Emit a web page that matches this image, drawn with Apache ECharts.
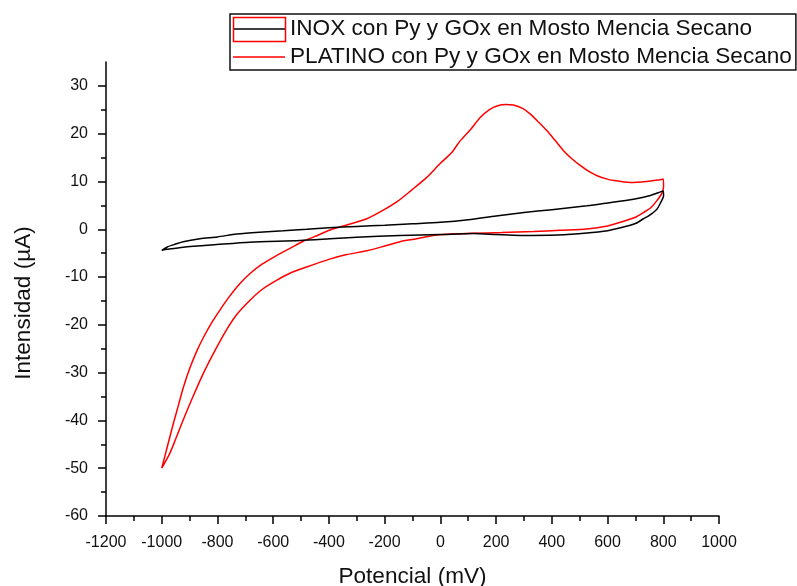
<!DOCTYPE html>
<html>
<head>
<meta charset="utf-8">
<script src="https://cdn.jsdelivr.net/npm/echarts@6/dist/echarts.min.js"></script>
<style>
  html, body { margin: 0; padding: 0; background: #fff; }
  #chart { width: 797px; height: 586px; }
</style>
</head>
<body>
<div id="chart"></div>
<script>
// Cyclic voltammograms: potential (mV) vs current (µA)
const seriesNames = [
  'INOX con Py y GOx en Mosto Mencia Secano',
  'PLATINO con Py y GOx en Mosto Mencia Secano'
];

// INOX electrode: forward sweep then return sweep
const inoxPotential = [
  -1000, -980, -950, -923, -863, -800, -731, -650, -564, -480, -400, -300, -200, -100,
  0, 100, 200, 300, 400, 526, 600, 693, 750, 800,
  801, 790, 777, 750, 729, 700, 646, 600, 526, 420, 286, 200, 119, 0,
  -145, -300, -396, -504, -684, -803, -923, -980, -1000
];
const inoxCurrent = [
  -4.4, -3.7, -3.1, -2.6, -2.0, -1.6, -1.0, -0.6, -0.3, 0.0, 0.3, 0.6, 0.85, 1.15,
  1.46, 2.0, 2.8, 3.5, 4.1, 4.9, 5.5, 6.3, 7.0, 8.0,
  7.0, 5.5, 4.2, 2.9, 2.2, 1.2, 0.3, -0.3, -0.8, -1.2, -1.3, -1.1, -0.9, -1.1,
  -1.3, -1.67, -2.0, -2.36, -2.7, -3.2, -3.75, -4.2, -4.4
];

// PLATINO electrode: forward sweep (oxidation peak) then return sweep
const ptPotential = [
  -1000, -980, -959, -940, -923, -900, -875, -850, -820, -790, -756, -720, -684, -640, -588,
  -540, -492, -450, -396, -330, -264, -205, -150, -103, -50, 0, 40, 71, 110, 143, 175,
  203, 235, 262, 295, 323, 353, 383, 413, 443, 473, 503, 533, 563, 593, 623, 682, 740,
  780, 800,
  801, 795, 777, 755, 729, 700, 646, 600, 526, 430, 334, 220, 119, 40, -25, -85, -145,
  -205, -264, -336, -400, -480, -540, -588, -640, -684, -730, -768, -810, -851, -890,
  -923, -950, -971, -1000
];
const ptCurrent = [
  -50, -45.5, -40.8, -36.8, -33.2, -29.2, -25.6, -22.6, -19.5, -16.8, -14.0, -11.4, -9.3, -7.3, -5.5,
  -4.0, -2.5, -1.5, -0.14, 1.0, 2.2, 4.0, 6.0, 8.2, 10.8, 13.8, 16.0, 18.5, 21.0, 23.4, 25.0,
  25.8, 26.1, 26.0, 25.3, 24.1, 22.4, 20.6, 18.5, 16.4, 14.7, 13.3, 12.1, 11.2, 10.6, 10.2, 9.8, 10.0,
  10.3, 10.5,
  9.0, 7.5, 6.0, 4.5, 3.5, 2.5, 1.46, 0.7, 0.08, -0.2, -0.48, -0.7, -0.83, -1.0, -1.3, -2.0, -2.6,
  -3.6, -4.5, -5.3, -6.3, -7.9, -9.2, -10.7, -12.6, -14.9, -17.8, -21.1, -25.5, -30.2, -35.3,
  -39.9, -43.9, -46.9, -50
];

// Axis ticks
const xTicks = { min: -1200, max: 1000, step: 200 };
const yMajorTicks = [-60, -50, -40, -30, -20, -10, 0, 10, 20, 30];
const yMinorTicks = [-55, -45, -35, -25, -15, -5, 5, 15, 25];
const yRange = { min: -60, max: 35 };

const FONT = '"Liberation Sans", Arial, sans-serif';
// thin horizontal bar used as the legend key
const LINE_KEY = 'path://M0,0 L52,0 L52,1.5 L0,1.5 Z';

function pairs(xs, ys) {
  return xs.map((x, i) => [x, ys[i]]);
}

const chart = echarts.init(document.getElementById('chart'), null, { renderer: 'canvas' });

chart.setOption({
  animation: false,
  backgroundColor: '#fff',
  grid: {
    left: 106, right: 78, top: 62, bottom: 70,
    containLabel: false, outerBoundsMode: 'none'
  },
  legend: {
    data: [
      { name: seriesNames[0], icon: LINE_KEY },
      { name: seriesNames[1], icon: LINE_KEY }
    ],
    orient: 'vertical',
    left: 230,
    top: 14,
    padding: [2, 4, 0, 3],
    itemGap: 2,
    itemWidth: 52,
    itemHeight: 26,
    borderColor: '#111',
    borderWidth: 1.5,
    textStyle: { fontFamily: FONT, fontSize: 22.6, color: '#111', lineHeight: 26 }
  },
  xAxis: {
    type: 'value',
    min: xTicks.min,
    max: xTicks.max,
    interval: xTicks.step,
    name: 'Potencial (mV)',
    nameLocation: 'middle',
    nameGap: 49,
    nameTextStyle: { fontFamily: FONT, fontSize: 22.6, color: '#111' },
    axisLine: { show: true, onZero: false, lineStyle: { color: '#000', width: 1.5 } },
    axisTick: { show: true, length: 8, lineStyle: { color: '#000', width: 1.5 } },
    minorTick: { show: true, splitNumber: 2, length: 5, lineStyle: { color: '#000', width: 1.5 } },
    axisLabel: {
      margin: 19, fontFamily: FONT, fontSize: 16, color: '#111',
      formatter: v => String(v)
    },
    splitLine: { show: false }
  },
  yAxis: [
    {
      type: 'value',
      min: yRange.min,
      max: yRange.max,
      interval: 10,
      name: 'Intensidad (µA)',
      nameLocation: 'middle',
      nameGap: 71,
      nameTextStyle: { fontFamily: FONT, fontSize: 22.6, color: '#111', padding: [0, 28, 0, 0] },
      axisLine: { show: true, onZero: false, lineStyle: { color: '#000', width: 1.5 } },
      axisTick: { show: true, length: 8, customValues: yMajorTicks, lineStyle: { color: '#000', width: 1.5 } },
      axisLabel: {
        margin: 18, fontFamily: FONT, fontSize: 16, color: '#111',
        customValues: yMajorTicks, formatter: v => String(v)
      },
      splitLine: { show: false }
    },
    {
      // minor ticks between the labelled values
      type: 'value',
      min: yRange.min,
      max: yRange.max,
      position: 'left',
      offset: 0,
      axisLine: { show: false, onZero: false },
      axisTick: { show: true, length: 5, customValues: yMinorTicks, lineStyle: { color: '#000', width: 1.5 } },
      axisLabel: { show: false },
      splitLine: { show: false }
    }
  ],
  series: [
    {
      name: seriesNames[1],
      type: 'line',
      data: pairs(ptPotential, ptCurrent),
      symbol: 'none',
      smooth: 0.25,
      lineStyle: { color: '#ff0000', width: 1.5 },
      itemStyle: { color: '#ff0000' },
      z: 2
    },
    {
      name: seriesNames[0],
      type: 'line',
      data: pairs(inoxPotential, inoxCurrent),
      symbol: 'none',
      smooth: 0.25,
      lineStyle: { color: '#000000', width: 1.5 },
      itemStyle: { color: '#000000' },
      z: 3
    }
  ],
  graphic: [
    {
      // red frame around the first legend key
      type: 'rect',
      shape: { x: 233.5, y: 17.5, width: 52, height: 24 },
      style: { fill: 'none', stroke: '#ff0000', lineWidth: 1.5 },
      z: 100
    }
  ]
});
</script>
</body>
</html>
